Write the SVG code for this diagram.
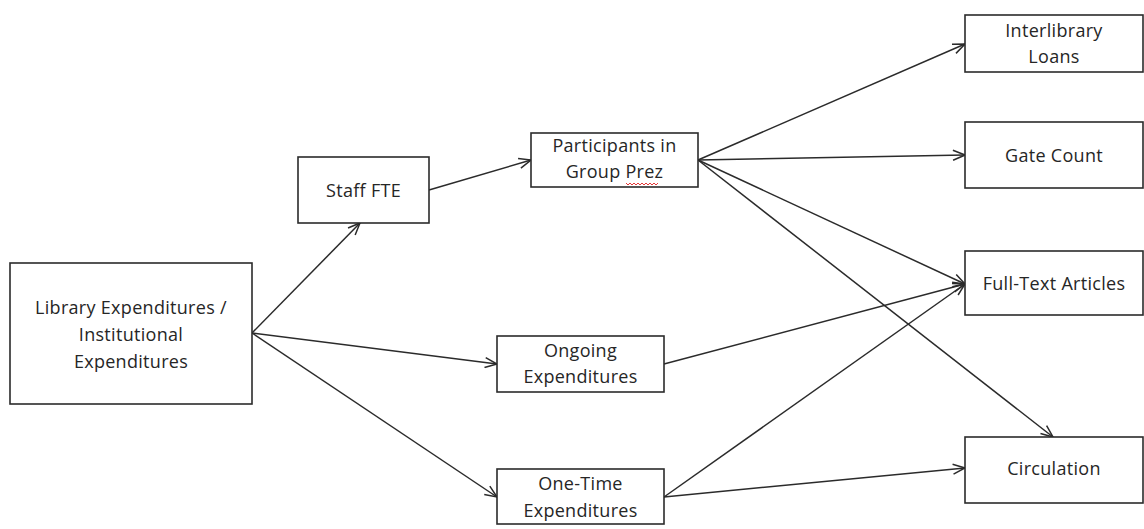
<svg xmlns="http://www.w3.org/2000/svg" width="1144" height="529" viewBox="0 0 1144 529">
  <defs>
    <style>
      .box { fill: #ffffff; stroke: #2b2b2b; stroke-width: 1.6; }
      .lbl { font-family: "Open Sans", "Liberation Sans", sans-serif; font-size: 18px; letter-spacing: 0.3px; fill: #262626; text-anchor: middle; }
      .edge { stroke: #2b2b2b; stroke-width: 1.5; fill: none; marker-end: url(#arrow); }
    </style>
    <marker id="arrow" viewBox="0 0 14 12" refX="13" refY="6" markerWidth="14" markerHeight="12" markerUnits="userSpaceOnUse" orient="auto">
      <path d="M1,1 L13,6 L1,11" fill="none" stroke="#2b2b2b" stroke-width="1.5"/>
    </marker>
  </defs>
  <rect width="1144" height="529" fill="#ffffff"/>

  <g id="connectors">
    <line class="edge" x1="252" y1="333" x2="360" y2="223"/>
    <line class="edge" x1="252" y1="333" x2="497" y2="364"/>
    <line class="edge" x1="252" y1="333" x2="497" y2="497"/>
    <line class="edge" x1="429" y1="190" x2="531" y2="160"/>
    <line class="edge" x1="698" y1="160" x2="965" y2="44"/>
    <line class="edge" x1="698" y1="160" x2="965" y2="155"/>
    <line class="edge" x1="698" y1="160" x2="965" y2="284"/>
    <line class="edge" x1="698" y1="160" x2="1053" y2="437"/>
    <line class="edge" x1="664" y1="364" x2="965" y2="284"/>
    <line class="edge" x1="664" y1="497" x2="965" y2="284"/>
    <line class="edge" x1="664" y1="497" x2="965" y2="468"/>
  </g>

  <g id="library-expenditures">
    <rect class="box" x="10" y="263" width="242" height="141"/>
    <text class="lbl" x="131" y="314">Library Expenditures /</text>
    <text class="lbl" x="131" y="341">Institutional</text>
    <text class="lbl" x="131" y="368">Expenditures</text>
  </g>

  <g id="staff-fte">
    <rect class="box" x="298" y="157" width="131" height="66"/>
    <text class="lbl" x="363.5" y="197">Staff FTE</text>
  </g>

  <g id="participants">
    <rect class="box" x="531" y="133" width="167" height="54"/>
    <text class="lbl" x="614.5" y="152">Participants in</text>
    <text class="lbl" x="614.5" y="178">Group Prez</text>
    <path d="M626,183 l2,2 l2,-2 l2,2 l2,-2 l2,2 l2,-2 l2,2 l2,-2 l2,2 l2,-2 l2,2 l2,-2 l2,2 l2,-2 l2,2 l2,-2" fill="none" stroke="#e02020" stroke-width="0.9"/>
  </g>

  <g id="ongoing">
    <rect class="box" x="497" y="336" width="167" height="56"/>
    <text class="lbl" x="580.5" y="357">Ongoing</text>
    <text class="lbl" x="580.5" y="383">Expenditures</text>
  </g>

  <g id="one-time">
    <rect class="box" x="497" y="469" width="167" height="55"/>
    <text class="lbl" x="580.5" y="490">One-Time</text>
    <text class="lbl" x="580.5" y="517">Expenditures</text>
  </g>

  <g id="interlibrary-loans">
    <rect class="box" x="965" y="15" width="178" height="57"/>
    <text class="lbl" x="1054" y="37">Interlibrary</text>
    <text class="lbl" x="1054" y="63">Loans</text>
  </g>

  <g id="gate-count">
    <rect class="box" x="965" y="122" width="178" height="66"/>
    <text class="lbl" x="1054" y="162">Gate Count</text>
  </g>

  <g id="full-text-articles">
    <rect class="box" x="965" y="251" width="178" height="64"/>
    <text class="lbl" x="1054" y="290">Full-Text Articles</text>
  </g>

  <g id="circulation">
    <rect class="box" x="965" y="437" width="178" height="66"/>
    <text class="lbl" x="1054" y="475">Circulation</text>
  </g>
</svg>
